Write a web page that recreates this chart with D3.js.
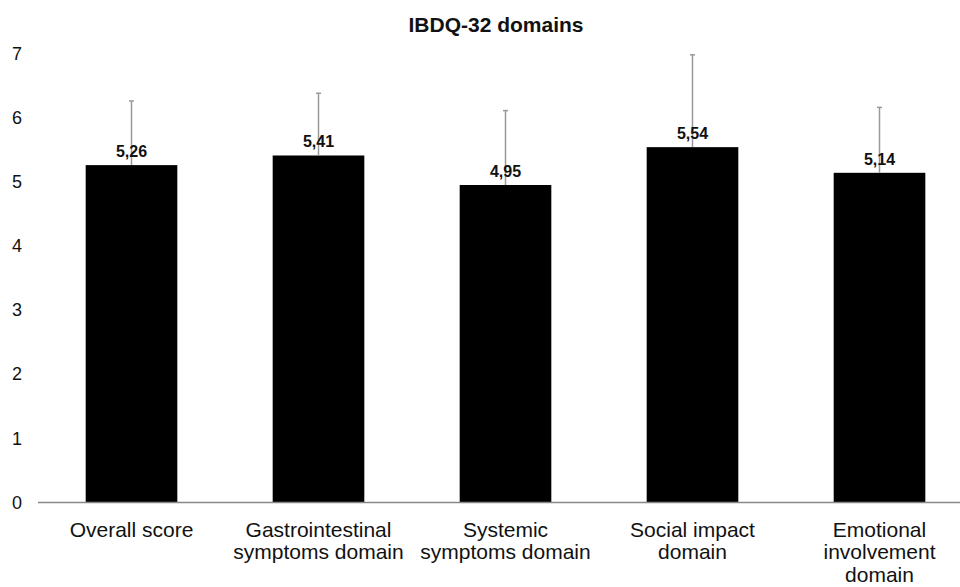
<!DOCTYPE html>
<html>
<head>
<meta charset="utf-8">
<script src="https://cdn.jsdelivr.net/npm/d3@7"></script>
<style>
  html, body { margin: 0; padding: 0; background: #fff; }
  svg { display: block; font-family: "Liberation Sans", Arial, sans-serif; }
</style>
</head>
<body>
<svg id="chart" width="960" height="587"></svg>
<script>
const categories = [
  ["Overall score"],
  ["Gastrointestinal", "symptoms domain"],
  ["Systemic", "symptoms domain"],
  ["Social impact", "domain"],
  ["Emotional", "involvement", "domain"]
];
const means = [5.26, 5.41, 4.95, 5.54, 5.14];
const meanLabels = ["5,26", "5,41", "4,95", "5,54", "5,14"];
const sds = [1.00, 0.97, 1.16, 1.44, 1.02];
const yTicks = [0, 1, 2, 3, 4, 5, 6, 7];
const title = "IBDQ-32 domains";

const svg = d3.select("#chart");
const ids = categories.map((c, i) => i);

const x = d3.scaleBand().domain(ids).range([38, 973]).paddingInner(0.51).paddingOuter(0.255);
const y = d3.scaleLinear().domain([0, 7]).range([502.5, 53.5]);

// title
svg.append("text")
  .attr("x", 496).attr("y", 31.5)
  .attr("text-anchor", "middle")
  .attr("font-size", 21).attr("font-weight", "bold")
  .attr("fill", "#111")
  .text(title);

// y axis labels
const yAxis = d3.axisLeft(y).tickValues(yTicks).tickSize(0).tickPadding(0).tickFormat(d3.format("d"));
const gy = svg.append("g").attr("transform", "translate(22,0)").call(yAxis);
gy.select(".domain").remove();
gy.selectAll("text").attr("font-size", 18).attr("fill", "#111")
  .attr("font-family", "Liberation Sans, Arial, sans-serif");

// bars
svg.append("g").selectAll("rect").data(ids).join("rect")
  .attr("x", i => x(i))
  .attr("width", x.bandwidth())
  .attr("y", i => y(means[i]))
  .attr("height", i => y(0) - y(means[i]))
  .attr("fill", "#000");

// error bars
const eg = svg.append("g").attr("stroke", "#999").attr("stroke-width", 1.5);
eg.selectAll("line.v").data(ids).join("line").attr("class", "v")
  .attr("x1", i => x(i) + x.bandwidth() / 2)
  .attr("x2", i => x(i) + x.bandwidth() / 2)
  .attr("y1", i => y(means[i]))
  .attr("y2", i => y(means[i] + sds[i]));
eg.selectAll("line.c").data(ids).join("line").attr("class", "c")
  .attr("x1", i => x(i) + x.bandwidth() / 2 - 2.5)
  .attr("x2", i => x(i) + x.bandwidth() / 2 + 2.5)
  .attr("y1", i => y(means[i] + sds[i]))
  .attr("y2", i => y(means[i] + sds[i]));

// value labels
svg.append("g").selectAll("text").data(ids).join("text")
  .attr("x", i => x(i) + x.bandwidth() / 2)
  .attr("y", i => y(means[i]) - 8)
  .attr("text-anchor", "middle")
  .attr("font-size", 16).attr("font-weight", "bold")
  .attr("fill", "#111")
  .text(i => meanLabels[i]);

// x axis line
svg.append("line")
  .attr("x1", 38).attr("x2", 960)
  .attr("y1", y(0)).attr("y2", y(0))
  .attr("stroke", "#888").attr("stroke-width", 1.5);

// category labels
const cl = svg.append("g").selectAll("text").data(ids).join("text")
  .attr("text-anchor", "middle")
  .attr("font-size", 21)
  .attr("fill", "#111");
cl.each(function(i) {
  const t = d3.select(this);
  categories[i].forEach((line, k) => {
    t.append("tspan")
      .attr("x", x(i) + x.bandwidth() / 2)
      .attr("y", 536.5 + k * 22.5)
      .text(line);
  });
});
</script>
</body>
</html>
